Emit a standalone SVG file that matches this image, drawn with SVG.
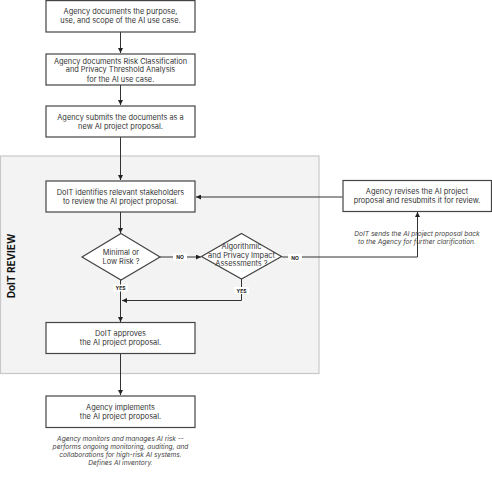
<svg xmlns="http://www.w3.org/2000/svg" width="492" height="497" viewBox="0 0 492 497">
<defs>
<marker id="ah" viewBox="0 0 6 6" refX="6" refY="3" markerWidth="5" markerHeight="5" orient="auto" markerUnits="userSpaceOnUse">
<path d="M0,0 L6,3 L0,6 z" fill="#222"/>
</marker>
<style>
.box{fill:#fff;stroke:#444;stroke-width:1.2}
.t{font-family:Inter,"Liberation Sans",sans-serif;font-size:7.4px;fill:#333;text-anchor:middle}
.n{font-family:Inter,"Liberation Sans",sans-serif;font-size:6.6px;fill:#444;text-anchor:middle;font-style:italic}
.lbl{font-family:Inter,"Liberation Sans",sans-serif;font-size:5px;font-weight:bold;fill:#222;text-anchor:middle}
.lb{fill:#fff}
.c{fill:none;stroke:#333;stroke-width:1}
</style>
</defs>
<rect x="0.5" y="156" width="318.5" height="217.5" fill="#f3f3f3" stroke="#c8c8c8" stroke-width="1.2"/>
<text transform="translate(15,266) rotate(-90)" font-family="Inter,'Liberation Sans',sans-serif" font-size="10" font-weight="bold" fill="#111" text-anchor="middle">DoIT REVIEW</text>
<g id="connectors">
<path class="c" d="M120.5,32 V53" marker-end="url(#ah)"/>
<path class="c" d="M120.5,85 V105" marker-end="url(#ah)"/>
<path class="c" d="M120.5,137 V180" marker-end="url(#ah)"/>
<path class="c" d="M120.5,212 V233" marker-end="url(#ah)"/>
<path class="c" d="M160,257 H201" marker-end="url(#ah)"/>
<path class="c" d="M282,257 H417.5 V212" marker-end="url(#ah)"/>
<path class="c" d="M342.5,197 H196" marker-end="url(#ah)"/>
<path class="c" d="M120.5,280 V322" marker-end="url(#ah)"/>
<path class="c" d="M241.5,279 V300.5 H122" marker-end="url(#ah)"/>
<path class="c" d="M120.5,353.5 V395" marker-end="url(#ah)"/>
<rect class="lb" x="173" y="253.5" width="14" height="7"/>
<text class="lbl" x="180" y="259">NO</text>
<rect class="lb" x="288" y="254" width="14" height="7"/>
<text class="lbl" x="295" y="259.5">NO</text>
<rect class="lb" x="113" y="284.5" width="15" height="7"/>
<text class="lbl" x="120.5" y="290">YES</text>
<rect class="lb" x="234" y="287" width="15" height="7"/>
<text class="lbl" x="241.5" y="292.5">YES</text>
</g>
<g id="n1">
<rect class="box" x="46" y="0.6" width="149" height="31.4"/>
<text class="t" x="120.5" y="14">Agency documents the purpose,</text>
<text class="t" x="120.5" y="23">use, and scope of the AI use case.</text>
</g>
<g id="n2">
<rect class="box" x="46" y="54" width="149" height="31"/>
<text class="t" x="120.5" y="63.5">Agency documents Risk Classification</text>
<text class="t" x="120.5" y="72.3">and Privacy Threshold Analysis</text>
<text class="t" x="120.5" y="81.5">for the AI use case.</text>
</g>
<g id="n3">
<rect class="box" x="46" y="106" width="149" height="31"/>
<text class="t" x="120.5" y="120">Agency submits the documents as a</text>
<text class="t" x="120.5" y="129">new AI project proposal.</text>
</g>
<g id="n4">
<rect class="box" x="46" y="181" width="149" height="31"/>
<text class="t" x="120.5" y="194.5">DoIT identifies relevant stakeholders</text>
<text class="t" x="120.5" y="203.5">to review the AI project proposal.</text>
</g>
<g id="n5">
<polygon class="box" points="121,233.5 160,257 121,280 82,257"/>
<text class="t" x="121" y="255">Minimal or</text>
<text class="t" x="121" y="264">Low Risk ?</text>
</g>
<g id="n6">
<polygon class="box" points="241.5,233.5 281.5,256.5 241.5,279 201.5,256.5"/>
<text class="t" x="241.5" y="249.3">Algorithmic</text>
<text class="t" x="241.5" y="257.6">and Privacy Impact</text>
<text class="t" x="241.5" y="265.9">Assessments ?</text>
</g>
<g id="n7">
<rect class="box" x="343" y="180.5" width="148.5" height="31"/>
<text class="t" x="417" y="194">Agency revises the AI project</text>
<text class="t" x="417" y="203">proposal and resubmits it for review.</text>
</g>
<g id="n8">
<text class="n" x="417" y="236">DoIT sends the AI project proposal back</text>
<text class="n" x="417" y="244">to the Agency for further clarification.</text>
</g>
<g id="n9">
<rect class="box" x="46" y="322.5" width="149" height="31"/>
<text class="t" x="120.5" y="336">DoIT approves</text>
<text class="t" x="120.5" y="345">the AI project proposal.</text>
</g>
<g id="n10">
<rect class="box" x="46" y="396" width="149" height="31.5"/>
<text class="t" x="120.5" y="409.5">Agency implements</text>
<text class="t" x="120.5" y="418.5">the AI project proposal.</text>
</g>
<g id="n11">
<text class="n" x="120.5" y="441">Agency monitors and manages AI risk --</text>
<text class="n" x="120.5" y="449">performs ongoing monitoring, auditing, and</text>
<text class="n" x="120.5" y="457">collaborations for high-risk AI systems.</text>
<text class="n" x="120.5" y="465">Defines AI inventory.</text>
</g>
</svg>
